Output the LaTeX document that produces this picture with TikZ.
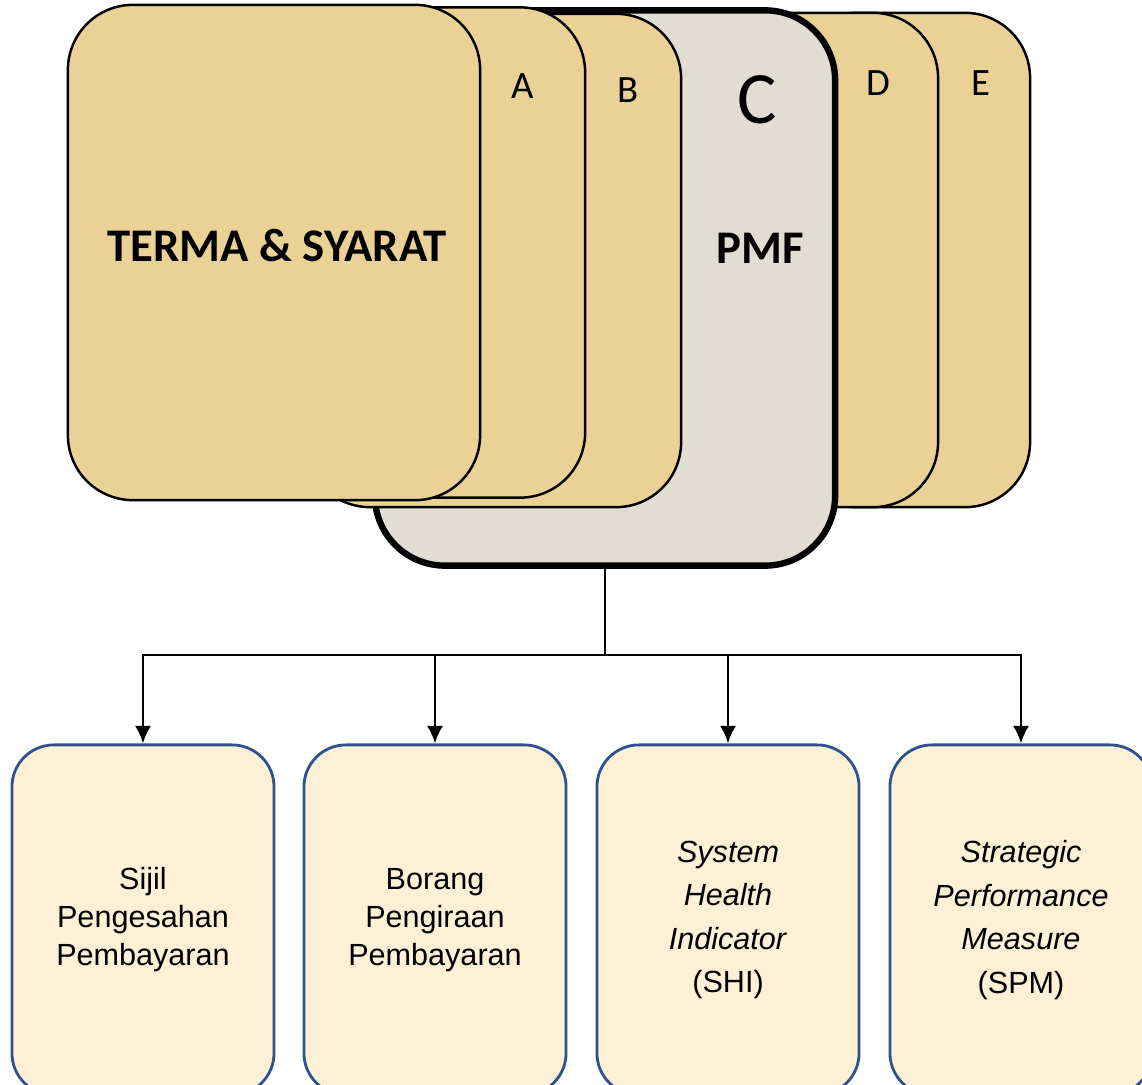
\documentclass[tikz,border=0pt]{standalone}
\usepackage{fontspec}
\setmainfont{Liberation Sans}
\newfontfamily\calib{Carlito}
\usetikzlibrary{arrows.meta}
\definecolor{tanpaper}{RGB}{234,210,150}
\definecolor{greypaper}{RGB}{226,221,210}
\definecolor{cream}{RGB}{252,240,214}
\definecolor{navy}{RGB}{47,82,143}
\tikzset{
  card/.style={draw=black,line width=0.7pt,fill=tanpaper,rounded corners=0.65cm,inner sep=0pt},
  tablbl/.style={font=\calib\fontsize{11}{13}\selectfont},
  bigtitle/.style={font=\calib\bfseries\fontsize{13.3}{15}\selectfont},
  docbox/.style={draw=navy,line width=0.8pt,fill=cream,rounded corners=0.42cm,
    minimum width=2.62cm,minimum height=3.5cm,align=center},
  plain/.style={font=\fontsize{8.7}{10.8}\selectfont},
  ital/.style={font=\fontsize{8.7}{12.4}\selectfont}
}
\begin{document}
\begin{tikzpicture}[x=0.01cm,y=-0.01cm,>={Latex[length=5pt,width=4.6pt]}]
    \useasboundingbox (0,0) rectangle (1142,1085);
    \clip (0,0) rectangle (1142,1085);
    % stacked cards, back to front
    \node[card,minimum width=2.40cm,minimum height=4.94cm] (cardE) at (910,260) {};
    \node[card,minimum width=2.38cm,minimum height=4.94cm] (cardD) at (819,260) {};
    \node[card,fill=greypaper,line width=1.8pt,rounded corners=0.7cm,
        minimum width=4.60cm,minimum height=5.55cm] (cardC) at (605,288) {};
    \node[card,minimum width=3.76cm,minimum height=4.93cm] (cardB) at (493,260.5) {};
    \node[card,minimum width=4.05cm,minimum height=4.90cm] (cardA) at (382.5,252.5) {};
    \node[card,minimum width=4.12cm,minimum height=4.95cm] (terma) at (274,252.5) {};
    \node[tablbl] (lblA) at (523,86) {A};
    \node[tablbl] (lblB) at (628,90) {B};
    \node[tablbl,font=\calib\fontsize{21}{25}\selectfont] (lblC) at (757,100) {C};
    \node[tablbl] (lblD) at (878,83) {D};
    \node[tablbl] (lblE) at (981,83) {E};
    \node[bigtitle] (termatxt) at (277,246) {TERMA \& SYARAT};
    \node[bigtitle] (pmf) at (760,248) {PMF};
    % documents under PMF
    \node[docbox,plain] (sijil) at (143,920) {Sijil\\Pengesahan\\Pembayaran};
    \node[docbox,plain] (borang) at (435,920) {Borang\\Pengiraan\\Pembayaran};
    \node[docbox,ital] (shi) at (728,920) {\textit{System}\\\textit{Health}\\\textit{Indicator}\\(SHI)};
    \node[docbox,ital] (spm) at (1021,920) {\textit{Strategic}\\\textit{Performance}\\\textit{Measure}\\(SPM)};
    \coordinate (hub) at (605,655);
    \draw[line width=0.8pt] (cardC.south) -- (hub);
    \draw[->,line width=0.8pt] (hub) -| (sijil.north);
    \draw[->,line width=0.8pt] (hub) -| (borang.north);
    \draw[->,line width=0.8pt] (hub) -| (shi.north);
    \draw[->,line width=0.8pt] (hub) -| (spm.north);
\end{tikzpicture}
\end{document}
